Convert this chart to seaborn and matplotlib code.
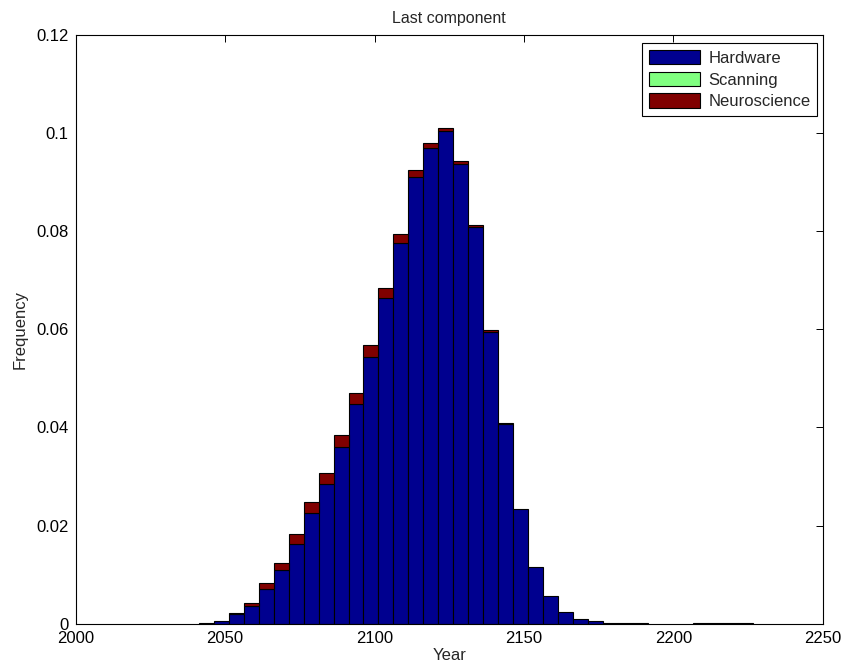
import numpy as np
import pandas as pd
import matplotlib
matplotlib.use("Agg")
import matplotlib.pyplot as plt
import seaborn as sns
from matplotlib.patches import Patch
from matplotlib.ticker import FuncFormatter

# Histogram of the year in which the last component becomes available
components = ["Hardware", "Scanning", "Neuroscience"]
colors = {"Hardware": "#00008F", "Scanning": "#80FF80", "Neuroscience": "#800000"}

first_edge = 2041.2
bin_width = 5.01

hardware = [
    0.0002, 0.00055, 0.0019, 0.0036, 0.0071, 0.0110, 0.0163, 0.0226, 0.0285, 0.0360,
    0.0447, 0.0544, 0.0664, 0.0776, 0.0910, 0.0969, 0.1004, 0.0937, 0.0808, 0.0595,
    0.0408, 0.0233, 0.0115, 0.0056, 0.0023, 0.0009, 0.00055, 0.0002, 0.0002, 0.0002,
    0.0, 0.0, 0.0, 0.00015, 0.00015, 0.00015, 0.00015,
]
scanning = [
    0.0, 0.0, 0.0, 0.0, 0.0, 0.0, 0.0, 0.0, 0.0, 0.0,
    0.0, 0.0, 0.0, 0.0, 0.0, 0.0, 0.0, 0.0, 0.0, 0.0,
    0.0, 0.0, 0.0, 0.0, 0.0, 0.0, 0.0, 0.0, 0.0, 0.0,
    0.0, 0.0, 0.0, 0.0, 0.0, 0.0, 0.0,
]
neuroscience = [
    0.0, 0.0, 0.0002, 0.0006, 0.0011, 0.0014, 0.0019, 0.0023, 0.0023, 0.0024,
    0.0024, 0.0024, 0.0020, 0.0018, 0.0015, 0.0010, 0.0007, 0.0007, 0.0005, 0.0004,
    0.0001, 0.0, 0.0, 0.0, 0.0, 0.0, 0.0, 0.0, 0.0, 0.0,
    0.0, 0.0, 0.0, 0.0, 0.0, 0.0, 0.0,
]

n_bins = len(hardware)
last_edge = first_edge + bin_width * n_bins
centers = first_edge + bin_width * (np.arange(n_bins) + 0.5)

df = pd.DataFrame({
    "Year": np.tile(centers, 3),
    "Frequency": np.concatenate([hardware, scanning, neuroscience]),
    "Component": np.repeat(components, n_bins),
})

sns.set_style("white")
plt.rcParams["font.family"] = ["Liberation Sans", "DejaVu Sans"]

W, H = 844, 671
fig = plt.figure(figsize=(W / 100, H / 100), dpi=100)
left, right, top, bottom = 75.7, 822.7, 35.0, 623.7
ax = fig.add_axes([left / W, 1 - bottom / H, (right - left) / W, (bottom - top) / H])

sns.histplot(
    data=df, x="Year", weights="Frequency", hue="Component",
    hue_order=["Neuroscience", "Scanning", "Hardware"],
    multiple="stack", binwidth=bin_width, binrange=(first_edge, last_edge),
    palette=colors, alpha=1, edgecolor="black", linewidth=0.8,
    legend=False, ax=ax,
)
for p in ax.patches:
    if p.get_height() <= 0:
        p.set_visible(False)

ax.set_xlim(2000, 2250)
ax.set_ylim(0, 0.12)
ax.set_xticks(np.arange(2000, 2251, 50))
ax.set_yticks(np.arange(0, 0.1201, 0.02))
ax.yaxis.set_major_formatter(FuncFormatter(lambda v, _: f"{v:g}"))
ax.set_axisbelow(True)
ax.tick_params(direction="in", length=5, width=0.7, top=True, right=True,
               labelsize=12, colors="black", pad=5)
for s in ax.spines.values():
    s.set_color("black")
    s.set_linewidth(0.8)
    s.set_visible(True)

ax.set_xlabel("Year", fontsize=12, labelpad=2)
ax.set_ylabel("Frequency", fontsize=12, labelpad=6)
ax.set_title("Last component", fontsize=11.5, pad=9)

handles = [Patch(facecolor=colors[c], edgecolor="black", linewidth=0.8) for c in components]
leg = ax.legend(
    handles, components, loc="upper right",
    bbox_to_anchor=(817.3 / W, 1 - 43.3 / H), bbox_transform=fig.transFigure,
    borderaxespad=0, fancybox=False, framealpha=1, edgecolor="black",
    fontsize=12, handlelength=3.1, handleheight=0.95, labelspacing=0.35,
    borderpad=0.4, handletextpad=0.5,
)
leg.get_frame().set_linewidth(0.8)

fig.savefig("out.png", dpi=100)
